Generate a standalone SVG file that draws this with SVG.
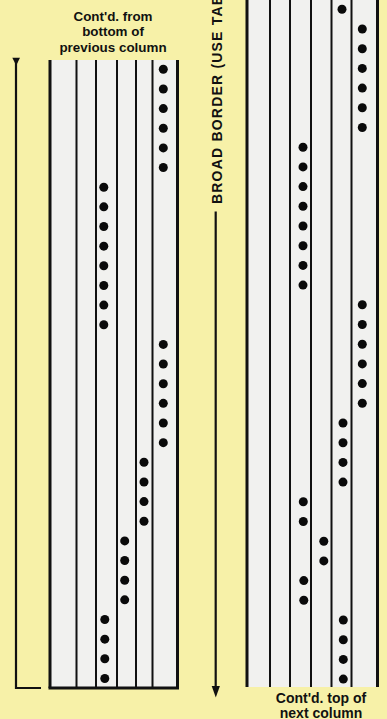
<svg xmlns="http://www.w3.org/2000/svg" xmlns:xlink="http://www.w3.org/1999/xlink" width="387" height="719" viewBox="0 0 387 719">
<style>
.lbl{font-family:"Liberation Sans",Arial,sans-serif;font-weight:bold;fill:#111;}
.panel{fill:#f1f1ef;}
.border{stroke:#111;stroke-width:3;fill:none;}
.rule{stroke:#111;stroke-width:2;fill:none;}
.conn{stroke:#111;stroke-width:2.2;fill:none;}
.dot{fill:#0a0a0a;}
</style>
<defs>
<circle id="d" r="4.5" class="dot"/>
</defs>
<rect x="0" y="0" width="387" height="719" fill="#f7f1a8"/>

<g id="top-label">
<text class="lbl" font-size="13.4" text-anchor="middle" x="113" y="20.5">Cont'd. from</text>
<text class="lbl" font-size="13.4" text-anchor="middle" x="113" y="36">bottom of</text>
<text class="lbl" font-size="13.4" text-anchor="middle" x="113" y="51.5">previous column</text>
</g>

<g id="left-panel">
<rect class="panel" x="50" y="60" width="128" height="628"/>
<line class="border" x1="50" y1="60" x2="50" y2="688"/>
<line class="border" x1="177.5" y1="60" x2="177.5" y2="688"/>
<line class="border" x1="48.5" y1="688" x2="179" y2="688"/>
<line class="rule" x1="76.5" y1="60" x2="76.5" y2="688"/>
<line class="rule" x1="96" y1="60" x2="96" y2="688"/>
<line class="rule" x1="117" y1="60" x2="117" y2="688"/>
<line class="rule" x1="136" y1="60" x2="136" y2="688"/>
<line class="rule" x1="152.5" y1="60" x2="152.5" y2="688"/>
<g id="left-dots">
<use href="#d" x="163.3" y="69.3"/><use href="#d" x="163.3" y="88.95"/><use href="#d" x="163.3" y="108.6"/><use href="#d" x="163.3" y="128.25"/><use href="#d" x="163.3" y="147.9"/><use href="#d" x="163.3" y="167.55"/>
<use href="#d" x="103.8" y="187.2"/><use href="#d" x="103.8" y="206.85"/><use href="#d" x="103.8" y="226.5"/><use href="#d" x="103.8" y="246.15"/><use href="#d" x="103.8" y="265.8"/><use href="#d" x="103.8" y="285.45"/><use href="#d" x="103.8" y="305.1"/><use href="#d" x="103.8" y="324.75"/>
<use href="#d" x="163.3" y="344.4"/><use href="#d" x="163.3" y="364.05"/><use href="#d" x="163.3" y="383.7"/><use href="#d" x="163.3" y="403.35"/><use href="#d" x="163.3" y="423"/><use href="#d" x="163.3" y="442.65"/>
<use href="#d" x="144" y="462.3"/><use href="#d" x="144" y="481.95"/><use href="#d" x="144" y="501.6"/><use href="#d" x="144" y="521.25"/>
<use href="#d" x="124.7" y="540.9"/><use href="#d" x="124.7" y="560.55"/><use href="#d" x="124.7" y="580.2"/><use href="#d" x="124.7" y="599.85"/>
<use href="#d" x="104.8" y="619.5"/><use href="#d" x="104.8" y="639.15"/><use href="#d" x="104.8" y="658.8"/><use href="#d" x="104.8" y="678.45"/>
</g>
</g>

<g id="right-panel">
<rect class="panel" x="247" y="0" width="131" height="687"/>
<line class="border" x1="247" y1="0" x2="247" y2="687"/>
<line class="border" x1="377.5" y1="0" x2="377.5" y2="687"/>
<line class="rule" x1="270" y1="0" x2="270" y2="687"/>
<line class="rule" x1="290" y1="0" x2="290" y2="687"/>
<line class="rule" x1="311" y1="0" x2="311" y2="687"/>
<line class="rule" x1="331.5" y1="0" x2="331.5" y2="687"/>
<line class="rule" x1="351.5" y1="0" x2="351.5" y2="687"/>
<g id="right-dots">
<use href="#d" x="342" y="9.3"/>
<use href="#d" x="362.3" y="29"/><use href="#d" x="362.3" y="48.7"/><use href="#d" x="362.3" y="68.4"/><use href="#d" x="362.3" y="88.1"/><use href="#d" x="362.3" y="107.8"/><use href="#d" x="362.3" y="127.5"/>
<use href="#d" x="303" y="147.2"/><use href="#d" x="303" y="166.9"/><use href="#d" x="303" y="186.6"/><use href="#d" x="303" y="206.3"/><use href="#d" x="303" y="226"/><use href="#d" x="303" y="245.7"/><use href="#d" x="303" y="265.4"/><use href="#d" x="303" y="285.1"/>
<use href="#d" x="362.3" y="304.8"/><use href="#d" x="362.3" y="324.5"/><use href="#d" x="362.3" y="344.2"/><use href="#d" x="362.3" y="363.9"/><use href="#d" x="362.3" y="383.6"/><use href="#d" x="362.3" y="403.3"/>
<use href="#d" x="343" y="423"/><use href="#d" x="343" y="442.7"/><use href="#d" x="343" y="462.4"/><use href="#d" x="343" y="482.1"/>
<use href="#d" x="303.3" y="501.8"/><use href="#d" x="303.3" y="521.5"/>
<use href="#d" x="323.8" y="541.2"/><use href="#d" x="323.8" y="560.9"/>
<use href="#d" x="303.8" y="580.6"/><use href="#d" x="303.8" y="600.3"/>
<use href="#d" x="343.3" y="620"/><use href="#d" x="343.3" y="639.7"/><use href="#d" x="343.3" y="659.4"/><use href="#d" x="343.3" y="679.1"/>
</g>
</g>

<g id="side-label">
<text class="lbl" font-size="14" letter-spacing="1.2" transform="translate(222,204) rotate(-90)">BROAD BORDER (USE TAB</text>
</g>

<g id="bottom-label">
<text class="lbl" font-size="14" text-anchor="middle" x="321" y="703">Cont'd. top of</text>
<text class="lbl" font-size="14" text-anchor="middle" x="321" y="717.5">next column</text>
</g>

<g id="connectors">
<polygon points="12.3,57.7 20,57.7 16.2,65.5" fill="#111"/>
<polyline class="conn" points="16,62 16,688 41,688"/>
<line class="conn" x1="215.7" y1="211.5" x2="215.7" y2="688"/>
<polygon points="211.7,686 219.9,686 215.8,697.5" fill="#111"/>
</g>
</svg>
